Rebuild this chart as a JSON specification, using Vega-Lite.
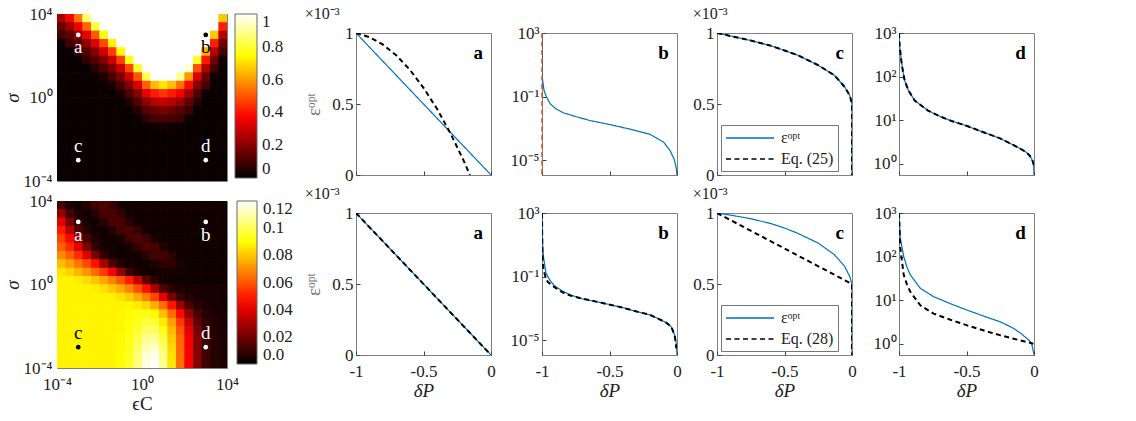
{
"$schema":"https://vega.github.io/schema/vega-lite/v6.json",
"background":"white",
"padding":{"left":2,"top":4,"right":2,"bottom":2},
"config":{"font":"Liberation Serif","view":{"stroke":"#808080","strokeWidth":1},
"axis":{"labelFontSize":17,"titleFontSize":19,"labelColor":"#222","titleColor":"#222","titleFontWeight":"normal","ticks":true,"tickSize":-4,"tickColor":"#444","tickWidth":1,"domain":false,"grid":false,"labelPadding":7,"labelOverlap":false,"labelFlush":false},
"title":{"fontWeight":"normal","fontSize":16,"color":"#222"},
"legend":{"labelColor":"#222"}},
"datasets":{
"marks":[{"label":"a","eps":0.001,"sigma":1000},{"label":"b","eps":1000,"sigma":1000},{"label":"c","eps":0.001,"sigma":0.001},{"label":"d","eps":1000,"sigma":0.001}],
"heatTop":[
{"lx":-3.8,"ly":3.8,"v":0.243},{"lx":-3.4,"ly":3.8,"v":0.372},{"lx":-3,"ly":3.8,"v":0.545},{"lx":-2.6,"ly":3.8,"v":0.85},{"lx":-2.2,"ly":3.8,"v":1},{"lx":-1.8,"ly":3.8,"v":1},{"lx":-1.4,"ly":3.8,"v":1},{"lx":-1,"ly":3.8,"v":1},{"lx":-0.6,"ly":3.8,"v":1},{"lx":-0.2,"ly":3.8,"v":1},{"lx":0.2,"ly":3.8,"v":1},{"lx":0.6,"ly":3.8,"v":1},{"lx":1,"ly":3.8,"v":1},{"lx":1.4,"ly":3.8,"v":1},{"lx":1.8,"ly":3.8,"v":1},{"lx":2.2,"ly":3.8,"v":1},{"lx":2.6,"ly":3.8,"v":1},{"lx":3,"ly":3.8,"v":1},{"lx":3.4,"ly":3.8,"v":1},{"lx":3.8,"ly":3.8,"v":0.67},
{"lx":-3.8,"ly":3.4,"v":0.146},{"lx":-3.4,"ly":3.4,"v":0.23},{"lx":-3,"ly":3.4,"v":0.356},{"lx":-2.6,"ly":3.4,"v":0.524},{"lx":-2.2,"ly":3.4,"v":0.81},{"lx":-1.8,"ly":3.4,"v":1},{"lx":-1.4,"ly":3.4,"v":1},{"lx":-1,"ly":3.4,"v":1},{"lx":-0.6,"ly":3.4,"v":1},{"lx":-0.2,"ly":3.4,"v":1},{"lx":0.2,"ly":3.4,"v":1},{"lx":0.6,"ly":3.4,"v":1},{"lx":1,"ly":3.4,"v":1},{"lx":1.4,"ly":3.4,"v":1},{"lx":1.8,"ly":3.4,"v":1},{"lx":2.2,"ly":3.4,"v":1},{"lx":2.6,"ly":3.4,"v":1},{"lx":3,"ly":3.4,"v":1},{"lx":3.4,"ly":3.4,"v":1},{"lx":3.8,"ly":3.4,"v":0.42},
{"lx":-3.8,"ly":3,"v":0.097},{"lx":-3.4,"ly":3,"v":0.137},{"lx":-3,"ly":3,"v":0.218},{"lx":-2.6,"ly":3,"v":0.34},{"lx":-2.2,"ly":3,"v":0.503},{"lx":-1.8,"ly":3,"v":0.77},{"lx":-1.4,"ly":3,"v":1},{"lx":-1,"ly":3,"v":1},{"lx":-0.6,"ly":3,"v":1},{"lx":-0.2,"ly":3,"v":1},{"lx":0.2,"ly":3,"v":1},{"lx":0.6,"ly":3,"v":1},{"lx":1,"ly":3,"v":1},{"lx":1.4,"ly":3,"v":1},{"lx":1.8,"ly":3,"v":1},{"lx":2.2,"ly":3,"v":1},{"lx":2.6,"ly":3,"v":1},{"lx":3,"ly":3,"v":1},{"lx":3.4,"ly":3,"v":0.67},{"lx":3.8,"ly":3,"v":0.27},
{"lx":-3.8,"ly":2.6,"v":0.02},{"lx":-3.4,"ly":2.6,"v":0.093},{"lx":-3,"ly":2.6,"v":0.129},{"lx":-2.6,"ly":2.6,"v":0.209},{"lx":-2.2,"ly":2.6,"v":0.324},{"lx":-1.8,"ly":2.6,"v":0.482},{"lx":-1.4,"ly":2.6,"v":0.734},{"lx":-1,"ly":2.6,"v":1},{"lx":-0.6,"ly":2.6,"v":1},{"lx":-0.2,"ly":2.6,"v":1},{"lx":0.2,"ly":2.6,"v":1},{"lx":0.6,"ly":2.6,"v":1},{"lx":1,"ly":2.6,"v":1},{"lx":1.4,"ly":2.6,"v":1},{"lx":1.8,"ly":2.6,"v":1},{"lx":2.2,"ly":2.6,"v":1},{"lx":2.6,"ly":2.6,"v":1},{"lx":3,"ly":2.6,"v":1},{"lx":3.4,"ly":2.6,"v":0.42},{"lx":3.8,"ly":2.6,"v":0.164},
{"lx":-3.8,"ly":2.2,"v":0.015},{"lx":-3.4,"ly":2.2,"v":0.017},{"lx":-3,"ly":2.2,"v":0.087},{"lx":-2.6,"ly":2.2,"v":0.125},{"lx":-2.2,"ly":2.2,"v":0.2},{"lx":-1.8,"ly":2.2,"v":0.31},{"lx":-1.4,"ly":2.2,"v":0.462},{"lx":-1,"ly":2.2,"v":0.742},{"lx":-0.6,"ly":2.2,"v":1},{"lx":-0.2,"ly":2.2,"v":1},{"lx":0.2,"ly":2.2,"v":1},{"lx":0.6,"ly":2.2,"v":1},{"lx":1,"ly":2.2,"v":1},{"lx":1.4,"ly":2.2,"v":1},{"lx":1.8,"ly":2.2,"v":1},{"lx":2.2,"ly":2.2,"v":1},{"lx":2.6,"ly":2.2,"v":1},{"lx":3,"ly":2.2,"v":0.638},{"lx":3.4,"ly":2.2,"v":0.27},{"lx":3.8,"ly":2.2,"v":0.105},
{"lx":-3.8,"ly":1.8,"v":0.015},{"lx":-3.4,"ly":1.8,"v":0.015},{"lx":-3,"ly":1.8,"v":0.015},{"lx":-2.6,"ly":1.8,"v":0.075},{"lx":-2.2,"ly":1.8,"v":0.121},{"lx":-1.8,"ly":1.8,"v":0.191},{"lx":-1.4,"ly":1.8,"v":0.297},{"lx":-1,"ly":1.8,"v":0.467},{"lx":-0.6,"ly":1.8,"v":0.77},{"lx":-0.2,"ly":1.8,"v":1},{"lx":0.2,"ly":1.8,"v":1},{"lx":0.6,"ly":1.8,"v":1},{"lx":1,"ly":1.8,"v":1},{"lx":1.4,"ly":1.8,"v":1},{"lx":1.8,"ly":1.8,"v":1},{"lx":2.2,"ly":1.8,"v":1},{"lx":2.6,"ly":1.8,"v":0.79},{"lx":3,"ly":1.8,"v":0.404},{"lx":3.4,"ly":1.8,"v":0.164},{"lx":3.8,"ly":1.8,"v":0.026},
{"lx":-3.8,"ly":1.4,"v":0.015},{"lx":-3.4,"ly":1.4,"v":0.015},{"lx":-3,"ly":1.4,"v":0.015},{"lx":-2.6,"ly":1.4,"v":0.015},{"lx":-2.2,"ly":1.4,"v":0.063},{"lx":-1.8,"ly":1.4,"v":0.117},{"lx":-1.4,"ly":1.4,"v":0.182},{"lx":-1,"ly":1.4,"v":0.3},{"lx":-0.6,"ly":1.4,"v":0.482},{"lx":-0.2,"ly":1.4,"v":0.8},{"lx":0.2,"ly":1.4,"v":1},{"lx":0.6,"ly":1.4,"v":1},{"lx":1,"ly":1.4,"v":1},{"lx":1.4,"ly":1.4,"v":1},{"lx":1.8,"ly":1.4,"v":1},{"lx":2.2,"ly":1.4,"v":0.96},{"lx":2.6,"ly":1.4,"v":0.493},{"lx":3,"ly":1.4,"v":0.257},{"lx":3.4,"ly":1.4,"v":0.105},{"lx":3.8,"ly":1.4,"v":0.015},
{"lx":-3.8,"ly":1,"v":0.015},{"lx":-3.4,"ly":1,"v":0.015},{"lx":-3,"ly":1,"v":0.015},{"lx":-2.6,"ly":1,"v":0.015},{"lx":-2.2,"ly":1,"v":0.015},{"lx":-1.8,"ly":1,"v":0.051},{"lx":-1.4,"ly":1,"v":0.113},{"lx":-1,"ly":1,"v":0.184},{"lx":-0.6,"ly":1,"v":0.31},{"lx":-0.2,"ly":1,"v":0.498},{"lx":0.2,"ly":1,"v":0.83},{"lx":0.6,"ly":1,"v":1},{"lx":1,"ly":1,"v":1},{"lx":1.4,"ly":1,"v":1},{"lx":1.8,"ly":1,"v":0.9},{"lx":2.2,"ly":1,"v":0.598},{"lx":2.6,"ly":1,"v":0.317},{"lx":3,"ly":1,"v":0.155},{"lx":3.4,"ly":1,"v":0.026},{"lx":3.8,"ly":1,"v":0.015},
{"lx":-3.8,"ly":0.6,"v":0.015},{"lx":-3.4,"ly":0.6,"v":0.015},{"lx":-3,"ly":0.6,"v":0.015},{"lx":-2.6,"ly":0.6,"v":0.015},{"lx":-2.2,"ly":0.6,"v":0.015},{"lx":-1.8,"ly":0.6,"v":0.015},{"lx":-1.4,"ly":0.6,"v":0.039},{"lx":-1,"ly":0.6,"v":0.114},{"lx":-0.6,"ly":0.6,"v":0.191},{"lx":-0.2,"ly":0.6,"v":0.32},{"lx":0.2,"ly":0.6,"v":0.514},{"lx":0.6,"ly":0.6,"v":0.654},{"lx":1,"ly":0.6,"v":0.718},{"lx":1.4,"ly":0.6,"v":0.654},{"lx":1.8,"ly":0.6,"v":0.55},{"lx":2.2,"ly":0.6,"v":0.384},{"lx":2.6,"ly":0.6,"v":0.195},{"lx":3,"ly":0.6,"v":0.101},{"lx":3.4,"ly":0.6,"v":0.015},{"lx":3.8,"ly":0.6,"v":0.015},
{"lx":-3.8,"ly":0.2,"v":0.015},{"lx":-3.4,"ly":0.2,"v":0.015},{"lx":-3,"ly":0.2,"v":0.015},{"lx":-2.6,"ly":0.2,"v":0.015},{"lx":-2.2,"ly":0.2,"v":0.015},{"lx":-1.8,"ly":0.2,"v":0.015},{"lx":-1.4,"ly":0.2,"v":0.015},{"lx":-1,"ly":0.2,"v":0.042},{"lx":-0.6,"ly":0.2,"v":0.117},{"lx":-0.2,"ly":0.2,"v":0.198},{"lx":0.2,"ly":0.2,"v":0.332},{"lx":0.6,"ly":0.2,"v":0.412},{"lx":1,"ly":0.2,"v":0.451},{"lx":1.4,"ly":0.2,"v":0.412},{"lx":1.8,"ly":0.2,"v":0.36},{"lx":2.2,"ly":0.2,"v":0.24},{"lx":2.6,"ly":0.2,"v":0.119},{"lx":3,"ly":0.2,"v":0.023},{"lx":3.4,"ly":0.2,"v":0.015},{"lx":3.8,"ly":0.2,"v":0.015},
{"lx":-3.8,"ly":-0.2,"v":0.015},{"lx":-3.4,"ly":-0.2,"v":0.015},{"lx":-3,"ly":-0.2,"v":0.015},{"lx":-2.6,"ly":-0.2,"v":0.015},{"lx":-2.2,"ly":-0.2,"v":0.015},{"lx":-1.8,"ly":-0.2,"v":0.015},{"lx":-1.4,"ly":-0.2,"v":0.015},{"lx":-1,"ly":-0.2,"v":0.015},{"lx":-0.6,"ly":-0.2,"v":0.051},{"lx":-0.2,"ly":-0.2,"v":0.12},{"lx":0.2,"ly":-0.2,"v":0.204},{"lx":0.6,"ly":-0.2,"v":0.263},{"lx":1,"ly":-0.2,"v":0.29},{"lx":1.4,"ly":-0.2,"v":0.263},{"lx":1.8,"ly":-0.2,"v":0.22},{"lx":2.2,"ly":-0.2,"v":0.143},{"lx":2.6,"ly":-0.2,"v":0.057},{"lx":3,"ly":-0.2,"v":0.015},{"lx":3.4,"ly":-0.2,"v":0.015},{"lx":3.8,"ly":-0.2,"v":0.015},
{"lx":-3.8,"ly":-0.6,"v":0.015},{"lx":-3.4,"ly":-0.6,"v":0.015},{"lx":-3,"ly":-0.6,"v":0.015},{"lx":-2.6,"ly":-0.6,"v":0.015},{"lx":-2.2,"ly":-0.6,"v":0.015},{"lx":-1.8,"ly":-0.6,"v":0.015},{"lx":-1.4,"ly":-0.6,"v":0.015},{"lx":-1,"ly":-0.6,"v":0.015},{"lx":-0.6,"ly":-0.6,"v":0.015},{"lx":-0.2,"ly":-0.6,"v":0.06},{"lx":0.2,"ly":-0.6,"v":0.123},{"lx":0.6,"ly":-0.6,"v":0.159},{"lx":1,"ly":-0.6,"v":0.177},{"lx":1.4,"ly":-0.6,"v":0.159},{"lx":1.8,"ly":-0.6,"v":0.13},{"lx":2.2,"ly":-0.6,"v":0.096},{"lx":2.6,"ly":-0.6,"v":0.015},{"lx":3,"ly":-0.6,"v":0.015},{"lx":3.4,"ly":-0.6,"v":0.015},{"lx":3.8,"ly":-0.6,"v":0.015},
{"lx":-3.8,"ly":-1,"v":0.015},{"lx":-3.4,"ly":-1,"v":0.015},{"lx":-3,"ly":-1,"v":0.015},{"lx":-2.6,"ly":-1,"v":0.015},{"lx":-2.2,"ly":-1,"v":0.015},{"lx":-1.8,"ly":-1,"v":0.015},{"lx":-1.4,"ly":-1,"v":0.015},{"lx":-1,"ly":-1,"v":0.015},{"lx":-0.6,"ly":-1,"v":0.015},{"lx":-0.2,"ly":-1,"v":0.015},{"lx":0.2,"ly":-1,"v":0.069},{"lx":0.6,"ly":-1,"v":0.103},{"lx":1,"ly":-1,"v":0.111},{"lx":1.4,"ly":-1,"v":0.103},{"lx":1.8,"ly":-1,"v":0.09},{"lx":2.2,"ly":-1,"v":0.02},{"lx":2.6,"ly":-1,"v":0.015},{"lx":3,"ly":-1,"v":0.015},{"lx":3.4,"ly":-1,"v":0.015},{"lx":3.8,"ly":-1,"v":0.015},
{"lx":-3.8,"ly":-1.4,"v":0.015},{"lx":-3.4,"ly":-1.4,"v":0.015},{"lx":-3,"ly":-1.4,"v":0.015},{"lx":-2.6,"ly":-1.4,"v":0.015},{"lx":-2.2,"ly":-1.4,"v":0.015},{"lx":-1.8,"ly":-1.4,"v":0.015},{"lx":-1.4,"ly":-1.4,"v":0.015},{"lx":-1,"ly":-1.4,"v":0.015},{"lx":-0.6,"ly":-1.4,"v":0.015},{"lx":-0.2,"ly":-1.4,"v":0.015},{"lx":0.2,"ly":-1.4,"v":0.015},{"lx":0.6,"ly":-1.4,"v":0.025},{"lx":1,"ly":-1.4,"v":0.033},{"lx":1.4,"ly":-1.4,"v":0.025},{"lx":1.8,"ly":-1.4,"v":0.015},{"lx":2.2,"ly":-1.4,"v":0.015},{"lx":2.6,"ly":-1.4,"v":0.015},{"lx":3,"ly":-1.4,"v":0.015},{"lx":3.4,"ly":-1.4,"v":0.015},{"lx":3.8,"ly":-1.4,"v":0.015},
{"lx":-3.8,"ly":-1.8,"v":0.015},{"lx":-3.4,"ly":-1.8,"v":0.015},{"lx":-3,"ly":-1.8,"v":0.015},{"lx":-2.6,"ly":-1.8,"v":0.015},{"lx":-2.2,"ly":-1.8,"v":0.015},{"lx":-1.8,"ly":-1.8,"v":0.015},{"lx":-1.4,"ly":-1.8,"v":0.015},{"lx":-1,"ly":-1.8,"v":0.015},{"lx":-0.6,"ly":-1.8,"v":0.015},{"lx":-0.2,"ly":-1.8,"v":0.015},{"lx":0.2,"ly":-1.8,"v":0.015},{"lx":0.6,"ly":-1.8,"v":0.015},{"lx":1,"ly":-1.8,"v":0.015},{"lx":1.4,"ly":-1.8,"v":0.015},{"lx":1.8,"ly":-1.8,"v":0.015},{"lx":2.2,"ly":-1.8,"v":0.015},{"lx":2.6,"ly":-1.8,"v":0.015},{"lx":3,"ly":-1.8,"v":0.015},{"lx":3.4,"ly":-1.8,"v":0.015},{"lx":3.8,"ly":-1.8,"v":0.015},
{"lx":-3.8,"ly":-2.2,"v":0.015},{"lx":-3.4,"ly":-2.2,"v":0.015},{"lx":-3,"ly":-2.2,"v":0.015},{"lx":-2.6,"ly":-2.2,"v":0.015},{"lx":-2.2,"ly":-2.2,"v":0.015},{"lx":-1.8,"ly":-2.2,"v":0.015},{"lx":-1.4,"ly":-2.2,"v":0.015},{"lx":-1,"ly":-2.2,"v":0.015},{"lx":-0.6,"ly":-2.2,"v":0.015},{"lx":-0.2,"ly":-2.2,"v":0.015},{"lx":0.2,"ly":-2.2,"v":0.015},{"lx":0.6,"ly":-2.2,"v":0.015},{"lx":1,"ly":-2.2,"v":0.015},{"lx":1.4,"ly":-2.2,"v":0.015},{"lx":1.8,"ly":-2.2,"v":0.015},{"lx":2.2,"ly":-2.2,"v":0.015},{"lx":2.6,"ly":-2.2,"v":0.015},{"lx":3,"ly":-2.2,"v":0.015},{"lx":3.4,"ly":-2.2,"v":0.015},{"lx":3.8,"ly":-2.2,"v":0.015},
{"lx":-3.8,"ly":-2.6,"v":0.015},{"lx":-3.4,"ly":-2.6,"v":0.015},{"lx":-3,"ly":-2.6,"v":0.015},{"lx":-2.6,"ly":-2.6,"v":0.015},{"lx":-2.2,"ly":-2.6,"v":0.015},{"lx":-1.8,"ly":-2.6,"v":0.015},{"lx":-1.4,"ly":-2.6,"v":0.015},{"lx":-1,"ly":-2.6,"v":0.015},{"lx":-0.6,"ly":-2.6,"v":0.015},{"lx":-0.2,"ly":-2.6,"v":0.015},{"lx":0.2,"ly":-2.6,"v":0.015},{"lx":0.6,"ly":-2.6,"v":0.015},{"lx":1,"ly":-2.6,"v":0.015},{"lx":1.4,"ly":-2.6,"v":0.015},{"lx":1.8,"ly":-2.6,"v":0.015},{"lx":2.2,"ly":-2.6,"v":0.015},{"lx":2.6,"ly":-2.6,"v":0.015},{"lx":3,"ly":-2.6,"v":0.015},{"lx":3.4,"ly":-2.6,"v":0.015},{"lx":3.8,"ly":-2.6,"v":0.015},
{"lx":-3.8,"ly":-3,"v":0.015},{"lx":-3.4,"ly":-3,"v":0.015},{"lx":-3,"ly":-3,"v":0.015},{"lx":-2.6,"ly":-3,"v":0.015},{"lx":-2.2,"ly":-3,"v":0.015},{"lx":-1.8,"ly":-3,"v":0.015},{"lx":-1.4,"ly":-3,"v":0.015},{"lx":-1,"ly":-3,"v":0.015},{"lx":-0.6,"ly":-3,"v":0.015},{"lx":-0.2,"ly":-3,"v":0.015},{"lx":0.2,"ly":-3,"v":0.015},{"lx":0.6,"ly":-3,"v":0.015},{"lx":1,"ly":-3,"v":0.015},{"lx":1.4,"ly":-3,"v":0.015},{"lx":1.8,"ly":-3,"v":0.015},{"lx":2.2,"ly":-3,"v":0.015},{"lx":2.6,"ly":-3,"v":0.015},{"lx":3,"ly":-3,"v":0.015},{"lx":3.4,"ly":-3,"v":0.015},{"lx":3.8,"ly":-3,"v":0.015},
{"lx":-3.8,"ly":-3.4,"v":0.015},{"lx":-3.4,"ly":-3.4,"v":0.015},{"lx":-3,"ly":-3.4,"v":0.015},{"lx":-2.6,"ly":-3.4,"v":0.015},{"lx":-2.2,"ly":-3.4,"v":0.015},{"lx":-1.8,"ly":-3.4,"v":0.015},{"lx":-1.4,"ly":-3.4,"v":0.015},{"lx":-1,"ly":-3.4,"v":0.015},{"lx":-0.6,"ly":-3.4,"v":0.015},{"lx":-0.2,"ly":-3.4,"v":0.015},{"lx":0.2,"ly":-3.4,"v":0.015},{"lx":0.6,"ly":-3.4,"v":0.015},{"lx":1,"ly":-3.4,"v":0.015},{"lx":1.4,"ly":-3.4,"v":0.015},{"lx":1.8,"ly":-3.4,"v":0.015},{"lx":2.2,"ly":-3.4,"v":0.015},{"lx":2.6,"ly":-3.4,"v":0.015},{"lx":3,"ly":-3.4,"v":0.015},{"lx":3.4,"ly":-3.4,"v":0.015},{"lx":3.8,"ly":-3.4,"v":0.015},
{"lx":-3.8,"ly":-3.8,"v":0.015},{"lx":-3.4,"ly":-3.8,"v":0.015},{"lx":-3,"ly":-3.8,"v":0.015},{"lx":-2.6,"ly":-3.8,"v":0.015},{"lx":-2.2,"ly":-3.8,"v":0.015},{"lx":-1.8,"ly":-3.8,"v":0.015},{"lx":-1.4,"ly":-3.8,"v":0.015},{"lx":-1,"ly":-3.8,"v":0.015},{"lx":-0.6,"ly":-3.8,"v":0.015},{"lx":-0.2,"ly":-3.8,"v":0.015},{"lx":0.2,"ly":-3.8,"v":0.015},{"lx":0.6,"ly":-3.8,"v":0.015},{"lx":1,"ly":-3.8,"v":0.015},{"lx":1.4,"ly":-3.8,"v":0.015},{"lx":1.8,"ly":-3.8,"v":0.015},{"lx":2.2,"ly":-3.8,"v":0.015},{"lx":2.6,"ly":-3.8,"v":0.015},{"lx":3,"ly":-3.8,"v":0.015},{"lx":3.4,"ly":-3.8,"v":0.015},{"lx":3.8,"ly":-3.8,"v":0.015}
],
"heatBot":[
{"lx":-3.8,"ly":3.8,"v":0.012},{"lx":-3.4,"ly":3.8,"v":0.005},{"lx":-3,"ly":3.8,"v":0.003},{"lx":-2.6,"ly":3.8,"v":0.0065},{"lx":-2.2,"ly":3.8,"v":0.012},{"lx":-1.8,"ly":3.8,"v":0.014},{"lx":-1.4,"ly":3.8,"v":0.0095},{"lx":-1,"ly":3.8,"v":0.004},{"lx":-0.6,"ly":3.8,"v":0.003},{"lx":-0.2,"ly":3.8,"v":0.003},{"lx":0.2,"ly":3.8,"v":0.003},{"lx":0.6,"ly":3.8,"v":0.003},{"lx":1,"ly":3.8,"v":0.003},{"lx":1.4,"ly":3.8,"v":0.003},{"lx":1.8,"ly":3.8,"v":0.003},{"lx":2.2,"ly":3.8,"v":0.003},{"lx":2.6,"ly":3.8,"v":0.003},{"lx":3,"ly":3.8,"v":0.003},{"lx":3.4,"ly":3.8,"v":0.003},{"lx":3.8,"ly":3.8,"v":0.003},
{"lx":-3.8,"ly":3.4,"v":0.026},{"lx":-3.4,"ly":3.4,"v":0.012},{"lx":-3,"ly":3.4,"v":0.005},{"lx":-2.6,"ly":3.4,"v":0.003},{"lx":-2.2,"ly":3.4,"v":0.007},{"lx":-1.8,"ly":3.4,"v":0.013},{"lx":-1.4,"ly":3.4,"v":0.0135},{"lx":-1,"ly":3.4,"v":0.009},{"lx":-0.6,"ly":3.4,"v":0.0034},{"lx":-0.2,"ly":3.4,"v":0.003},{"lx":0.2,"ly":3.4,"v":0.003},{"lx":0.6,"ly":3.4,"v":0.003},{"lx":1,"ly":3.4,"v":0.003},{"lx":1.4,"ly":3.4,"v":0.003},{"lx":1.8,"ly":3.4,"v":0.003},{"lx":2.2,"ly":3.4,"v":0.003},{"lx":2.6,"ly":3.4,"v":0.003},{"lx":3,"ly":3.4,"v":0.003},{"lx":3.4,"ly":3.4,"v":0.003},{"lx":3.8,"ly":3.4,"v":0.003},
{"lx":-3.8,"ly":3,"v":0.04},{"lx":-3.4,"ly":3,"v":0.021},{"lx":-3,"ly":3,"v":0.009},{"lx":-2.6,"ly":3,"v":0.0045},{"lx":-2.2,"ly":3,"v":0.003},{"lx":-1.8,"ly":3,"v":0.008},{"lx":-1.4,"ly":3,"v":0.013},{"lx":-1,"ly":3,"v":0.013},{"lx":-0.6,"ly":3,"v":0.008},{"lx":-0.2,"ly":3,"v":0.003},{"lx":0.2,"ly":3,"v":0.003},{"lx":0.6,"ly":3,"v":0.003},{"lx":1,"ly":3,"v":0.003},{"lx":1.4,"ly":3,"v":0.003},{"lx":1.8,"ly":3,"v":0.003},{"lx":2.2,"ly":3,"v":0.003},{"lx":2.6,"ly":3,"v":0.003},{"lx":3,"ly":3,"v":0.003},{"lx":3.4,"ly":3,"v":0.003},{"lx":3.8,"ly":3,"v":0.003},
{"lx":-3.8,"ly":2.6,"v":0.049},{"lx":-3.4,"ly":2.6,"v":0.0325},{"lx":-3,"ly":2.6,"v":0.0157},{"lx":-2.6,"ly":2.6,"v":0.007},{"lx":-2.2,"ly":2.6,"v":0.0037},{"lx":-1.8,"ly":2.6,"v":0.003},{"lx":-1.4,"ly":2.6,"v":0.0065},{"lx":-1,"ly":2.6,"v":0.0122},{"lx":-0.6,"ly":2.6,"v":0.0138},{"lx":-0.2,"ly":2.6,"v":0.0095},{"lx":0.2,"ly":2.6,"v":0.004},{"lx":0.6,"ly":2.6,"v":0.003},{"lx":1,"ly":2.6,"v":0.003},{"lx":1.4,"ly":2.6,"v":0.003},{"lx":1.8,"ly":2.6,"v":0.003},{"lx":2.2,"ly":2.6,"v":0.003},{"lx":2.6,"ly":2.6,"v":0.003},{"lx":3,"ly":2.6,"v":0.003},{"lx":3.4,"ly":2.6,"v":0.003},{"lx":3.8,"ly":2.6,"v":0.003},
{"lx":-3.8,"ly":2.2,"v":0.0567},{"lx":-3.4,"ly":2.2,"v":0.0463},{"lx":-3,"ly":2.2,"v":0.0278},{"lx":-2.6,"ly":2.2,"v":0.013},{"lx":-2.2,"ly":2.2,"v":0.0057},{"lx":-1.8,"ly":2.2,"v":0.0033},{"lx":-1.4,"ly":2.2,"v":0.003},{"lx":-1,"ly":2.2,"v":0.0052},{"lx":-0.6,"ly":2.2,"v":0.0109},{"lx":-0.2,"ly":2.2,"v":0.014},{"lx":0.2,"ly":2.2,"v":0.0109},{"lx":0.6,"ly":2.2,"v":0.0052},{"lx":1,"ly":2.2,"v":0.003},{"lx":1.4,"ly":2.2,"v":0.003},{"lx":1.8,"ly":2.2,"v":0.003},{"lx":2.2,"ly":2.2,"v":0.003},{"lx":2.6,"ly":2.2,"v":0.003},{"lx":3,"ly":2.2,"v":0.003},{"lx":3.4,"ly":2.2,"v":0.003},{"lx":3.8,"ly":2.2,"v":0.003},
{"lx":-3.8,"ly":1.8,"v":0.062},{"lx":-3.4,"ly":1.8,"v":0.0528},{"lx":-3,"ly":1.8,"v":0.04},{"lx":-2.6,"ly":1.8,"v":0.0213},{"lx":-2.2,"ly":1.8,"v":0.009},{"lx":-1.8,"ly":1.8,"v":0.0045},{"lx":-1.4,"ly":1.8,"v":0.003},{"lx":-1,"ly":1.8,"v":0.003},{"lx":-0.6,"ly":1.8,"v":0.004},{"lx":-0.2,"ly":1.8,"v":0.0095},{"lx":0.2,"ly":1.8,"v":0.0138},{"lx":0.6,"ly":1.8,"v":0.0122},{"lx":1,"ly":1.8,"v":0.0065},{"lx":1.4,"ly":1.8,"v":0.003},{"lx":1.8,"ly":1.8,"v":0.003},{"lx":2.2,"ly":1.8,"v":0.003},{"lx":2.6,"ly":1.8,"v":0.003},{"lx":3,"ly":1.8,"v":0.003},{"lx":3.4,"ly":1.8,"v":0.003},{"lx":3.8,"ly":1.8,"v":0.003},
{"lx":-3.8,"ly":1.4,"v":0.0696},{"lx":-3.4,"ly":1.4,"v":0.062},{"lx":-3,"ly":1.4,"v":0.0528},{"lx":-2.6,"ly":1.4,"v":0.04},{"lx":-2.2,"ly":1.4,"v":0.0213},{"lx":-1.8,"ly":1.4,"v":0.009},{"lx":-1.4,"ly":1.4,"v":0.0045},{"lx":-1,"ly":1.4,"v":0.003},{"lx":-0.6,"ly":1.4,"v":0.003},{"lx":-0.2,"ly":1.4,"v":0.003},{"lx":0.2,"ly":1.4,"v":0.0074},{"lx":0.6,"ly":1.4,"v":0.0122},{"lx":1,"ly":1.4,"v":0.0122},{"lx":1.4,"ly":1.4,"v":0.0074},{"lx":1.8,"ly":1.4,"v":0.003},{"lx":2.2,"ly":1.4,"v":0.003},{"lx":2.6,"ly":1.4,"v":0.003},{"lx":3,"ly":1.4,"v":0.003},{"lx":3.4,"ly":1.4,"v":0.003},{"lx":3.8,"ly":1.4,"v":0.003},
{"lx":-3.8,"ly":1,"v":0.0784},{"lx":-3.4,"ly":1,"v":0.0728},{"lx":-3,"ly":1,"v":0.066},{"lx":-2.6,"ly":1,"v":0.058},{"lx":-2.2,"ly":1,"v":0.0476},{"lx":-1.8,"ly":1,"v":0.03},{"lx":-1.4,"ly":1,"v":0.0143},{"lx":-1,"ly":1,"v":0.0063},{"lx":-0.6,"ly":1,"v":0.0035},{"lx":-0.2,"ly":1,"v":0.003},{"lx":0.2,"ly":1,"v":0.003},{"lx":0.6,"ly":1,"v":0.0051},{"lx":1,"ly":1,"v":0.0085},{"lx":1.4,"ly":1,"v":0.0085},{"lx":1.8,"ly":1,"v":0.0051},{"lx":2.2,"ly":1,"v":0.003},{"lx":2.6,"ly":1,"v":0.003},{"lx":3,"ly":1,"v":0.003},{"lx":3.4,"ly":1,"v":0.003},{"lx":3.8,"ly":1,"v":0.003},
{"lx":-3.8,"ly":0.6,"v":0.0852},{"lx":-3.4,"ly":0.6,"v":0.082},{"lx":-3,"ly":0.6,"v":0.0772},{"lx":-2.6,"ly":0.6,"v":0.0712},{"lx":-2.2,"ly":0.6,"v":0.064},{"lx":-1.8,"ly":0.6,"v":0.0554},{"lx":-1.4,"ly":0.6,"v":0.045},{"lx":-1,"ly":0.6,"v":0.0257},{"lx":-0.6,"ly":0.6,"v":0.0117},{"lx":-0.2,"ly":0.6,"v":0.005},{"lx":0.2,"ly":0.6,"v":0.003},{"lx":0.6,"ly":0.6,"v":0.003},{"lx":1,"ly":0.6,"v":0.004},{"lx":1.4,"ly":0.6,"v":0.004},{"lx":1.8,"ly":0.6,"v":0.004},{"lx":2.2,"ly":0.6,"v":0.003},{"lx":2.6,"ly":0.6,"v":0.003},{"lx":3,"ly":0.6,"v":0.003},{"lx":3.4,"ly":0.6,"v":0.003},{"lx":3.8,"ly":0.6,"v":0.003},
{"lx":-3.8,"ly":0.2,"v":0.088},{"lx":-3.4,"ly":0.2,"v":0.088},{"lx":-3,"ly":0.2,"v":0.0864},{"lx":-2.6,"ly":0.2,"v":0.0836},{"lx":-2.2,"ly":0.2,"v":0.0796},{"lx":-1.8,"ly":0.2,"v":0.0744},{"lx":-1.4,"ly":0.2,"v":0.068},{"lx":-1,"ly":0.2,"v":0.06},{"lx":-0.6,"ly":0.2,"v":0.0502},{"lx":-0.2,"ly":0.2,"v":0.035},{"lx":0.2,"ly":0.2,"v":0.017},{"lx":0.6,"ly":0.2,"v":0.0077},{"lx":1,"ly":0.2,"v":0.004},{"lx":1.4,"ly":0.2,"v":0.003},{"lx":1.8,"ly":0.2,"v":0.003},{"lx":2.2,"ly":0.2,"v":0.003},{"lx":2.6,"ly":0.2,"v":0.003},{"lx":3,"ly":0.2,"v":0.003},{"lx":3.4,"ly":0.2,"v":0.003},{"lx":3.8,"ly":0.2,"v":0.003},
{"lx":-3.8,"ly":-0.2,"v":0.088},{"lx":-3.4,"ly":-0.2,"v":0.088},{"lx":-3,"ly":-0.2,"v":0.088},{"lx":-2.6,"ly":-0.2,"v":0.088},{"lx":-2.2,"ly":-0.2,"v":0.0871},{"lx":-1.8,"ly":-0.2,"v":0.0846},{"lx":-1.4,"ly":-0.2,"v":0.0807},{"lx":-1,"ly":-0.2,"v":0.075},{"lx":-0.6,"ly":-0.2,"v":0.068},{"lx":-0.2,"ly":-0.2,"v":0.0592},{"lx":0.2,"ly":-0.2,"v":0.0479},{"lx":0.6,"ly":-0.2,"v":0.03},{"lx":1,"ly":-0.2,"v":0.0147},{"lx":1.4,"ly":-0.2,"v":0.008},{"lx":1.8,"ly":-0.2,"v":0.0055},{"lx":2.2,"ly":-0.2,"v":0.0043},{"lx":2.6,"ly":-0.2,"v":0.004},{"lx":3,"ly":-0.2,"v":0.004},{"lx":3.4,"ly":-0.2,"v":0.004},{"lx":3.8,"ly":-0.2,"v":0.004},
{"lx":-3.8,"ly":-0.6,"v":0.088},{"lx":-3.4,"ly":-0.6,"v":0.088},{"lx":-3,"ly":-0.6,"v":0.088},{"lx":-2.6,"ly":-0.6,"v":0.088},{"lx":-2.2,"ly":-0.6,"v":0.088},{"lx":-1.8,"ly":-0.6,"v":0.088},{"lx":-1.4,"ly":-0.6,"v":0.0875},{"lx":-1,"ly":-0.6,"v":0.085},{"lx":-0.6,"ly":-0.6,"v":0.081},{"lx":-0.2,"ly":-0.6,"v":0.075},{"lx":0.2,"ly":-0.6,"v":0.0673},{"lx":0.6,"ly":-0.6,"v":0.057},{"lx":1,"ly":-0.6,"v":0.04},{"lx":1.4,"ly":-0.6,"v":0.0213},{"lx":1.8,"ly":-0.6,"v":0.01},{"lx":2.2,"ly":-0.6,"v":0.0065},{"lx":2.6,"ly":-0.6,"v":0.0048},{"lx":3,"ly":-0.6,"v":0.004},{"lx":3.4,"ly":-0.6,"v":0.004},{"lx":3.8,"ly":-0.6,"v":0.004},
{"lx":-3.8,"ly":-1,"v":0.088},{"lx":-3.4,"ly":-1,"v":0.088},{"lx":-3,"ly":-1,"v":0.088},{"lx":-2.6,"ly":-1,"v":0.088},{"lx":-2.2,"ly":-1,"v":0.088},{"lx":-1.8,"ly":-1,"v":0.088},{"lx":-1.4,"ly":-1,"v":0.088},{"lx":-1,"ly":-1,"v":0.088},{"lx":-0.6,"ly":-1,"v":0.0885},{"lx":-0.2,"ly":-1,"v":0.0869},{"lx":0.2,"ly":-1,"v":0.083},{"lx":0.6,"ly":-1,"v":0.0754},{"lx":1,"ly":-1,"v":0.064},{"lx":1.4,"ly":-1,"v":0.0485},{"lx":1.8,"ly":-1,"v":0.0278},{"lx":2.2,"ly":-1,"v":0.0135},{"lx":2.6,"ly":-1,"v":0.0075},{"lx":3,"ly":-1,"v":0.0053},{"lx":3.4,"ly":-1,"v":0.0041},{"lx":3.8,"ly":-1,"v":0.004},
{"lx":-3.8,"ly":-1.4,"v":0.088},{"lx":-3.4,"ly":-1.4,"v":0.088},{"lx":-3,"ly":-1.4,"v":0.088},{"lx":-2.6,"ly":-1.4,"v":0.088},{"lx":-2.2,"ly":-1.4,"v":0.088},{"lx":-1.8,"ly":-1.4,"v":0.088},{"lx":-1.4,"ly":-1.4,"v":0.088},{"lx":-1,"ly":-1.4,"v":0.0884},{"lx":-0.6,"ly":-1.4,"v":0.0893},{"lx":-0.2,"ly":-1.4,"v":0.0915},{"lx":0.2,"ly":-1.4,"v":0.0926},{"lx":0.6,"ly":-1.4,"v":0.0889},{"lx":1,"ly":-1.4,"v":0.0787},{"lx":1.4,"ly":-1.4,"v":0.0642},{"lx":1.8,"ly":-1.4,"v":0.046},{"lx":2.2,"ly":-1.4,"v":0.0257},{"lx":2.6,"ly":-1.4,"v":0.0123},{"lx":3,"ly":-1.4,"v":0.007},{"lx":3.4,"ly":-1.4,"v":0.005},{"lx":3.8,"ly":-1.4,"v":0.004},
{"lx":-3.8,"ly":-1.8,"v":0.088},{"lx":-3.4,"ly":-1.8,"v":0.088},{"lx":-3,"ly":-1.8,"v":0.088},{"lx":-2.6,"ly":-1.8,"v":0.088},{"lx":-2.2,"ly":-1.8,"v":0.088},{"lx":-1.8,"ly":-1.8,"v":0.088},{"lx":-1.4,"ly":-1.8,"v":0.0881},{"lx":-1,"ly":-1.8,"v":0.0886},{"lx":-0.6,"ly":-1.8,"v":0.0901},{"lx":-0.2,"ly":-1.8,"v":0.0935},{"lx":0.2,"ly":-1.8,"v":0.0975},{"lx":0.6,"ly":-1.8,"v":0.0957},{"lx":1,"ly":-1.8,"v":0.0866},{"lx":1.4,"ly":-1.8,"v":0.0725},{"lx":1.8,"ly":-1.8,"v":0.0553},{"lx":2.2,"ly":-1.8,"v":0.0354},{"lx":2.6,"ly":-1.8,"v":0.017},{"lx":3,"ly":-1.8,"v":0.009},{"lx":3.4,"ly":-1.8,"v":0.006},{"lx":3.8,"ly":-1.8,"v":0.0045},
{"lx":-3.8,"ly":-2.2,"v":0.088},{"lx":-3.4,"ly":-2.2,"v":0.088},{"lx":-3,"ly":-2.2,"v":0.088},{"lx":-2.6,"ly":-2.2,"v":0.088},{"lx":-2.2,"ly":-2.2,"v":0.088},{"lx":-1.8,"ly":-2.2,"v":0.088},{"lx":-1.4,"ly":-2.2,"v":0.0881},{"lx":-1,"ly":-2.2,"v":0.0888},{"lx":-0.6,"ly":-2.2,"v":0.0911},{"lx":-0.2,"ly":-2.2,"v":0.096},{"lx":0.2,"ly":-2.2,"v":0.1018},{"lx":0.6,"ly":-2.2,"v":0.102},{"lx":1,"ly":-2.2,"v":0.0925},{"lx":1.4,"ly":-2.2,"v":0.0773},{"lx":1.8,"ly":-2.2,"v":0.0603},{"lx":2.2,"ly":-2.2,"v":0.0406},{"lx":2.6,"ly":-2.2,"v":0.0213},{"lx":3,"ly":-2.2,"v":0.01},{"lx":3.4,"ly":-2.2,"v":0.0065},{"lx":3.8,"ly":-2.2,"v":0.0048},
{"lx":-3.8,"ly":-2.6,"v":0.088},{"lx":-3.4,"ly":-2.6,"v":0.088},{"lx":-3,"ly":-2.6,"v":0.088},{"lx":-2.6,"ly":-2.6,"v":0.088},{"lx":-2.2,"ly":-2.6,"v":0.088},{"lx":-1.8,"ly":-2.6,"v":0.088},{"lx":-1.4,"ly":-2.6,"v":0.0882},{"lx":-1,"ly":-2.6,"v":0.0891},{"lx":-0.6,"ly":-2.6,"v":0.0922},{"lx":-0.2,"ly":-2.6,"v":0.0988},{"lx":0.2,"ly":-2.6,"v":0.1066},{"lx":0.6,"ly":-2.6,"v":0.1079},{"lx":1,"ly":-2.6,"v":0.0978},{"lx":1.4,"ly":-2.6,"v":0.0809},{"lx":1.8,"ly":-2.6,"v":0.0628},{"lx":2.2,"ly":-2.6,"v":0.0433},{"lx":2.6,"ly":-2.6,"v":0.0235},{"lx":3,"ly":-2.6,"v":0.0112},{"lx":3.4,"ly":-2.6,"v":0.0068},{"lx":3.8,"ly":-2.6,"v":0.0049},
{"lx":-3.8,"ly":-3,"v":0.088},{"lx":-3.4,"ly":-3,"v":0.088},{"lx":-3,"ly":-3,"v":0.088},{"lx":-2.6,"ly":-3,"v":0.088},{"lx":-2.2,"ly":-3,"v":0.088},{"lx":-1.8,"ly":-3,"v":0.088},{"lx":-1.4,"ly":-3,"v":0.0882},{"lx":-1,"ly":-3,"v":0.0894},{"lx":-0.6,"ly":-3,"v":0.0933},{"lx":-0.2,"ly":-3,"v":0.1015},{"lx":0.2,"ly":-3,"v":0.1112},{"lx":0.6,"ly":-3,"v":0.1133},{"lx":1,"ly":-3,"v":0.102},{"lx":1.4,"ly":-3,"v":0.0831},{"lx":1.8,"ly":-3,"v":0.0636},{"lx":2.2,"ly":-3,"v":0.0434},{"lx":2.6,"ly":-3,"v":0.0235},{"lx":3,"ly":-3,"v":0.0112},{"lx":3.4,"ly":-3,"v":0.0068},{"lx":3.8,"ly":-3,"v":0.0049},
{"lx":-3.8,"ly":-3.4,"v":0.088},{"lx":-3.4,"ly":-3.4,"v":0.088},{"lx":-3,"ly":-3.4,"v":0.088},{"lx":-2.6,"ly":-3.4,"v":0.088},{"lx":-2.2,"ly":-3.4,"v":0.088},{"lx":-1.8,"ly":-3.4,"v":0.088},{"lx":-1.4,"ly":-3.4,"v":0.0883},{"lx":-1,"ly":-3.4,"v":0.0896},{"lx":-0.6,"ly":-3.4,"v":0.094},{"lx":-0.2,"ly":-3.4,"v":0.1035},{"lx":0.2,"ly":-3.4,"v":0.1147},{"lx":0.6,"ly":-3.4,"v":0.1173},{"lx":1,"ly":-3.4,"v":0.1052},{"lx":1.4,"ly":-3.4,"v":0.0847},{"lx":1.8,"ly":-3.4,"v":0.0642},{"lx":2.2,"ly":-3.4,"v":0.0436},{"lx":2.6,"ly":-3.4,"v":0.0235},{"lx":3,"ly":-3.4,"v":0.0112},{"lx":3.4,"ly":-3.4,"v":0.0068},{"lx":3.8,"ly":-3.4,"v":0.0049},
{"lx":-3.8,"ly":-3.8,"v":0.088},{"lx":-3.4,"ly":-3.8,"v":0.088},{"lx":-3,"ly":-3.8,"v":0.088},{"lx":-2.6,"ly":-3.8,"v":0.088},{"lx":-2.2,"ly":-3.8,"v":0.088},{"lx":-1.8,"ly":-3.8,"v":0.088},{"lx":-1.4,"ly":-3.8,"v":0.0883},{"lx":-1,"ly":-3.8,"v":0.0897},{"lx":-0.6,"ly":-3.8,"v":0.0944},{"lx":-0.2,"ly":-3.8,"v":0.1045},{"lx":0.2,"ly":-3.8,"v":0.1164},{"lx":0.6,"ly":-3.8,"v":0.1193},{"lx":1,"ly":-3.8,"v":0.1067},{"lx":1.4,"ly":-3.8,"v":0.0855},{"lx":1.8,"ly":-3.8,"v":0.0645},{"lx":2.2,"ly":-3.8,"v":0.0437},{"lx":2.6,"ly":-3.8,"v":0.0235},{"lx":3,"ly":-3.8,"v":0.0112},{"lx":3.4,"ly":-3.8,"v":0.0068},{"lx":3.8,"ly":-3.8,"v":0.0049}
],
"a1":[{"dP":-1,"eps":1,"series":"εᵒᵖᵗ"},{"dP":0,"eps":0,"series":"εᵒᵖᵗ"},
{"dP":-1,"eps":1,"series":"Eq. (25)"},{"dP":-0.9,"eps":0.971,"series":"Eq. (25)"},{"dP":-0.8,"eps":0.918,"series":"Eq. (25)"},{"dP":-0.7,"eps":0.841,"series":"Eq. (25)"},{"dP":-0.6,"eps":0.74,"series":"Eq. (25)"},{"dP":-0.5,"eps":0.614,"series":"Eq. (25)"},{"dP":-0.4,"eps":0.466,"series":"Eq. (25)"},{"dP":-0.3,"eps":0.293,"series":"Eq. (25)"},{"dP":-0.2,"eps":0.096,"series":"Eq. (25)"},{"dP":-0.156,"eps":0,"series":"Eq. (25)"}],
"b1":[{"dP":-1,"eps":1000,"series":"εᵒᵖᵗ"},{"dP":-0.9995,"eps":20,"series":"εᵒᵖᵗ"},{"dP":-0.997,"eps":1.38,"series":"εᵒᵖᵗ"},{"dP":-0.985,"eps":0.251,"series":"εᵒᵖᵗ"},{"dP":-0.968,"eps":0.1,"series":"εᵒᵖᵗ"},{"dP":-0.94,"eps":0.0363,"series":"εᵒᵖᵗ"},{"dP":-0.9,"eps":0.0178,"series":"εᵒᵖᵗ"},{"dP":-0.842,"eps":0.00977,"series":"εᵒᵖᵗ"},{"dP":-0.75,"eps":0.00562,"series":"εᵒᵖᵗ"},{"dP":-0.644,"eps":0.00316,"series":"εᵒᵖᵗ"},{"dP":-0.5,"eps":0.00178,"series":"εᵒᵖᵗ"},{"dP":-0.347,"eps":0.000912,"series":"εᵒᵖᵗ"},{"dP":-0.2,"eps":0.000437,"series":"εᵒᵖᵗ"},{"dP":-0.1,"eps":0.000141,"series":"εᵒᵖᵗ"},{"dP":-0.05,"eps":0.0000398,"series":"εᵒᵖᵗ"},{"dP":-0.02,"eps":0.0000112,"series":"εᵒᵖᵗ"},{"dP":-0.005,"eps":0.00000316,"series":"εᵒᵖᵗ"},{"dP":0,"eps":0.0000012,"series":"εᵒᵖᵗ"},
{"dP":-1,"eps":1000,"series":"Eq. (25)"},{"dP":-1,"eps":0.0000012,"series":"Eq. (25)"}],
"c1":[{"dP":-1,"eps":1,"series":"εᵒᵖᵗ"},{"dP":-0.9,"eps":0.979,"series":"εᵒᵖᵗ"},{"dP":-0.75,"eps":0.947,"series":"εᵒᵖᵗ"},{"dP":-0.6,"eps":0.91,"series":"εᵒᵖᵗ"},{"dP":-0.5,"eps":0.877,"series":"εᵒᵖᵗ"},{"dP":-0.4,"eps":0.843,"series":"εᵒᵖᵗ"},{"dP":-0.25,"eps":0.773,"series":"εᵒᵖᵗ"},{"dP":-0.13,"eps":0.702,"series":"εᵒᵖᵗ"},{"dP":-0.054,"eps":0.62,"series":"εᵒᵖᵗ"},{"dP":-0.017,"eps":0.56,"series":"εᵒᵖᵗ"},{"dP":-0.005,"eps":0.52,"series":"εᵒᵖᵗ"},{"dP":0,"eps":0.5,"series":"εᵒᵖᵗ"},{"dP":0,"eps":0,"series":"εᵒᵖᵗ"},
{"dP":-1,"eps":1,"series":"Eq. (25)"},{"dP":-0.9,"eps":0.979,"series":"Eq. (25)"},{"dP":-0.75,"eps":0.947,"series":"Eq. (25)"},{"dP":-0.6,"eps":0.91,"series":"Eq. (25)"},{"dP":-0.5,"eps":0.877,"series":"Eq. (25)"},{"dP":-0.4,"eps":0.843,"series":"Eq. (25)"},{"dP":-0.25,"eps":0.773,"series":"Eq. (25)"},{"dP":-0.13,"eps":0.702,"series":"Eq. (25)"},{"dP":-0.054,"eps":0.62,"series":"Eq. (25)"},{"dP":-0.017,"eps":0.56,"series":"Eq. (25)"},{"dP":-0.005,"eps":0.52,"series":"Eq. (25)"},{"dP":0,"eps":0.5,"series":"Eq. (25)"},{"dP":0,"eps":0,"series":"Eq. (25)"}],
"d1":[{"dP":-1,"eps":1000,"series":"εᵒᵖᵗ"},{"dP":-0.995,"eps":501,"series":"εᵒᵖᵗ"},{"dP":-0.983,"eps":234,"series":"εᵒᵖᵗ"},{"dP":-0.97,"eps":126,"series":"εᵒᵖᵗ"},{"dP":-0.958,"eps":81.3,"series":"εᵒᵖᵗ"},{"dP":-0.93,"eps":47.9,"series":"εᵒᵖᵗ"},{"dP":-0.884,"eps":28.2,"series":"εᵒᵖᵗ"},{"dP":-0.785,"eps":16.6,"series":"εᵒᵖᵗ"},{"dP":-0.7,"eps":12.3,"series":"εᵒᵖᵗ"},{"dP":-0.611,"eps":9.55,"series":"εᵒᵖᵗ"},{"dP":-0.5,"eps":7.41,"series":"εᵒᵖᵗ"},{"dP":-0.364,"eps":5.13,"series":"εᵒᵖᵗ"},{"dP":-0.25,"eps":3.8,"series":"εᵒᵖᵗ"},{"dP":-0.116,"eps":2.34,"series":"εᵒᵖᵗ"},{"dP":-0.06,"eps":1.86,"series":"εᵒᵖᵗ"},{"dP":-0.03,"eps":1.51,"series":"εᵒᵖᵗ"},{"dP":-0.01,"eps":1.15,"series":"εᵒᵖᵗ"},{"dP":-0.003,"eps":0.955,"series":"εᵒᵖᵗ"},{"dP":0,"eps":0.55,"series":"εᵒᵖᵗ"},
{"dP":-1,"eps":1000,"series":"Eq. (25)"},{"dP":-0.995,"eps":501,"series":"Eq. (25)"},{"dP":-0.983,"eps":234,"series":"Eq. (25)"},{"dP":-0.97,"eps":126,"series":"Eq. (25)"},{"dP":-0.958,"eps":81.3,"series":"Eq. (25)"},{"dP":-0.93,"eps":47.9,"series":"Eq. (25)"},{"dP":-0.884,"eps":28.2,"series":"Eq. (25)"},{"dP":-0.785,"eps":16.6,"series":"Eq. (25)"},{"dP":-0.7,"eps":12.3,"series":"Eq. (25)"},{"dP":-0.611,"eps":9.55,"series":"Eq. (25)"},{"dP":-0.5,"eps":7.41,"series":"Eq. (25)"},{"dP":-0.364,"eps":5.13,"series":"Eq. (25)"},{"dP":-0.25,"eps":3.8,"series":"Eq. (25)"},{"dP":-0.116,"eps":2.34,"series":"Eq. (25)"},{"dP":-0.06,"eps":1.86,"series":"Eq. (25)"},{"dP":-0.03,"eps":1.51,"series":"Eq. (25)"},{"dP":-0.01,"eps":1.15,"series":"Eq. (25)"},{"dP":-0.003,"eps":0.955,"series":"Eq. (25)"},{"dP":0,"eps":0.9,"series":"Eq. (25)"}],
"a2":[{"dP":-1,"eps":1,"series":"εᵒᵖᵗ"},{"dP":0,"eps":0,"series":"εᵒᵖᵗ"},{"dP":-1,"eps":1,"series":"Eq. (28)"},{"dP":0,"eps":0,"series":"Eq. (28)"}],
"b2":[{"dP":-1,"eps":1000,"series":"εᵒᵖᵗ"},{"dP":-0.995,"eps":10,"series":"εᵒᵖᵗ"},{"dP":-0.988,"eps":1.45,"series":"εᵒᵖᵗ"},{"dP":-0.97,"eps":0.162,"series":"εᵒᵖᵗ"},{"dP":-0.94,"eps":0.0562,"series":"εᵒᵖᵗ"},{"dP":-0.908,"eps":0.0269,"series":"εᵒᵖᵗ"},{"dP":-0.85,"eps":0.0126,"series":"εᵒᵖᵗ"},{"dP":-0.785,"eps":0.00692,"series":"εᵒᵖᵗ"},{"dP":-0.7,"eps":0.00398,"series":"εᵒᵖᵗ"},{"dP":-0.537,"eps":0.00209,"series":"εᵒᵖᵗ"},{"dP":-0.4,"eps":0.00112,"series":"εᵒᵖᵗ"},{"dP":-0.29,"eps":0.000617,"series":"εᵒᵖᵗ"},{"dP":-0.2,"eps":0.000398,"series":"εᵒᵖᵗ"},{"dP":-0.141,"eps":0.000234,"series":"εᵒᵖᵗ"},{"dP":-0.08,"eps":0.00013,"series":"εᵒᵖᵗ"},{"dP":-0.042,"eps":0.0000692,"series":"εᵒᵖᵗ"},{"dP":-0.017,"eps":0.0000209,"series":"εᵒᵖᵗ"},{"dP":-0.005,"eps":0.00000631,"series":"εᵒᵖᵗ"},{"dP":0,"eps":0.0000012,"series":"εᵒᵖᵗ"},
{"dP":-1,"eps":1000,"series":"Eq. (28)"},{"dP":-0.998,"eps":3.16,"series":"Eq. (28)"},{"dP":-0.99,"eps":0.316,"series":"Eq. (28)"},{"dP":-0.975,"eps":0.1,"series":"Eq. (28)"},{"dP":-0.958,"eps":0.0479,"series":"Eq. (28)"},{"dP":-0.92,"eps":0.0263,"series":"Eq. (28)"},{"dP":-0.884,"eps":0.0158,"series":"Eq. (28)"},{"dP":-0.834,"eps":0.00891,"series":"Eq. (28)"},{"dP":-0.785,"eps":0.00631,"series":"Eq. (28)"},{"dP":-0.7,"eps":0.00417,"series":"Eq. (28)"},{"dP":-0.537,"eps":0.00209,"series":"Eq. (28)"},{"dP":-0.4,"eps":0.00112,"series":"Eq. (28)"},{"dP":-0.29,"eps":0.000617,"series":"Eq. (28)"},{"dP":-0.2,"eps":0.000398,"series":"Eq. (28)"},{"dP":-0.141,"eps":0.000234,"series":"Eq. (28)"},{"dP":-0.08,"eps":0.00013,"series":"Eq. (28)"},{"dP":-0.042,"eps":0.0000692,"series":"Eq. (28)"},{"dP":-0.017,"eps":0.0000209,"series":"Eq. (28)"},{"dP":-0.005,"eps":0.00000316,"series":"Eq. (28)"}],
"c2":[{"dP":-1,"eps":1,"series":"εᵒᵖᵗ"},{"dP":-0.9,"eps":0.985,"series":"εᵒᵖᵗ"},{"dP":-0.75,"eps":0.96,"series":"εᵒᵖᵗ"},{"dP":-0.6,"eps":0.925,"series":"εᵒᵖᵗ"},{"dP":-0.5,"eps":0.894,"series":"εᵒᵖᵗ"},{"dP":-0.4,"eps":0.856,"series":"εᵒᵖᵗ"},{"dP":-0.25,"eps":0.788,"series":"εᵒᵖᵗ"},{"dP":-0.13,"eps":0.706,"series":"εᵒᵖᵗ"},{"dP":-0.054,"eps":0.624,"series":"εᵒᵖᵗ"},{"dP":-0.017,"eps":0.553,"series":"εᵒᵖᵗ"},{"dP":0,"eps":0.5,"series":"εᵒᵖᵗ"},{"dP":0,"eps":0,"series":"εᵒᵖᵗ"},
{"dP":-1,"eps":1,"series":"Eq. (28)"},{"dP":0,"eps":0.5,"series":"Eq. (28)"},{"dP":0,"eps":0,"series":"Eq. (28)"}],
"d2":[{"dP":-1,"eps":1000,"series":"εᵒᵖᵗ"},{"dP":-0.995,"eps":501,"series":"εᵒᵖᵗ"},{"dP":-0.99,"eps":263,"series":"εᵒᵖᵗ"},{"dP":-0.965,"eps":100,"series":"εᵒᵖᵗ"},{"dP":-0.94,"eps":56.2,"series":"εᵒᵖᵗ"},{"dP":-0.916,"eps":38,"series":"εᵒᵖᵗ"},{"dP":-0.842,"eps":18.6,"series":"εᵒᵖᵗ"},{"dP":-0.743,"eps":12,"series":"εᵒᵖᵗ"},{"dP":-0.62,"eps":8.32,"series":"εᵒᵖᵗ"},{"dP":-0.495,"eps":5.89,"series":"εᵒᵖᵗ"},{"dP":-0.37,"eps":4.27,"series":"εᵒᵖᵗ"},{"dP":-0.248,"eps":3.16,"series":"εᵒᵖᵗ"},{"dP":-0.15,"eps":2.24,"series":"εᵒᵖᵗ"},{"dP":-0.099,"eps":1.74,"series":"εᵒᵖᵗ"},{"dP":-0.037,"eps":1.2,"series":"εᵒᵖᵗ"},{"dP":-0.017,"eps":1,"series":"εᵒᵖᵗ"},{"dP":0,"eps":0.56,"series":"εᵒᵖᵗ"},
{"dP":-1,"eps":1000,"series":"Eq. (28)"},{"dP":-0.995,"eps":316,"series":"Eq. (28)"},{"dP":-0.99,"eps":155,"series":"Eq. (28)"},{"dP":-0.965,"eps":38,"series":"Eq. (28)"},{"dP":-0.94,"eps":22.4,"series":"Eq. (28)"},{"dP":-0.916,"eps":15.5,"series":"Eq. (28)"},{"dP":-0.842,"eps":7.59,"series":"Eq. (28)"},{"dP":-0.743,"eps":4.9,"series":"Eq. (28)"},{"dP":-0.62,"eps":3.55,"series":"Eq. (28)"},{"dP":-0.495,"eps":2.63,"series":"Eq. (28)"},{"dP":-0.37,"eps":2,"series":"Eq. (28)"},{"dP":-0.248,"eps":1.55,"series":"Eq. (28)"},{"dP":-0.12,"eps":1.23,"series":"Eq. (28)"},{"dP":-0.005,"eps":1,"series":"Eq. (28)"}]
},
"spacing":10,
"resolve":{"scale":{"color":"independent","strokeDash":"independent"}},
"hconcat":[
{"vconcat":[
 {"width":170,"height":167,
  "layer":[
   {"data":{"name":"heatTop"},"mark":{"type":"rect"},"encoding":{
     "x":{"field":"lx","type":"ordinal","axis":null,"scale":{"paddingInner":0,"paddingOuter":0}},
     "y":{"field":"ly","type":"ordinal","axis":null,"sort":"descending","scale":{"paddingInner":0,"paddingOuter":0}},
     "color":{"field":"v","type":"quantitative","scale":{"domain":[0,0.375,0.75,1],"range":["#000000","#ff0000","#ffff00","#ffffff"],"interpolate":"rgb"},
      "legend":{"type":"gradient","title":null,"orient":"right","direction":"vertical","gradientLength":164,"gradientThickness":22,"gradientStrokeColor":"#666","gradientStrokeWidth":1,"values":[0,0.2,0.4,0.6,0.8,1],"labelExpr":"toString(datum.value)","labelBaseline":"middle","labelFontSize":17,"labelOffset":5,"offset":8,"labelOverlap":false}}}},
   {"data":{"name":"heatTop"},"mark":{"type":"rect"},"encoding":{
     "x":{"field":"lx","type":"ordinal","axis":null,"scale":{"paddingInner":0,"paddingOuter":0}},
     "y":{"field":"ly","type":"ordinal","axis":null,"sort":"descending","scale":{"paddingInner":0,"paddingOuter":0}},
     "color":{"field":"v","type":"quantitative"}}},
   {"data":{"name":"heatTop"},"mark":{"type":"rect"},"encoding":{
     "x":{"field":"lx","type":"ordinal","axis":null,"scale":{"paddingInner":0,"paddingOuter":0}},
     "y":{"field":"ly","type":"ordinal","axis":null,"sort":"descending","scale":{"paddingInner":0,"paddingOuter":0}},
     "color":{"field":"v","type":"quantitative"}}},
   {"data":{"name":"marks"},"mark":{"type":"point","filled":true,"size":22,"opacity":1},"encoding":{
     "x":{"field":"eps","type":"quantitative","scale":{"type":"log","domain":[0.0001,10000],"nice":false},"axis":null},
     "y":{"field":"sigma","type":"quantitative","scale":{"type":"log","domain":[0.0001,10000],"nice":false},"axis":{"orient":"left","ticks":false,"values":[0.0001,1,10000],"labelExpr":"datum.value < 0.01 ? '10⁻⁴' : datum.value < 100 ? '10⁰' : '10⁴'","labelPadding":5,"title":"σ","titleFontStyle":"italic","titlePadding":1}},
     "color":{"condition":{"test":"datum.label == 'b'","value":"#000000"},"value":"#ffffff"}}},
   {"data":{"name":"marks"},"transform":[{"filter":"datum.sigma > 1"}],"mark":{"type":"text","fontSize":19,"baseline":"alphabetic","dy":18},"encoding":{
     "x":{"field":"eps","type":"quantitative","scale":{"type":"log","domain":[0.0001,10000],"nice":false},"axis":null},
     "y":{"field":"sigma","type":"quantitative","scale":{"type":"log","domain":[0.0001,10000],"nice":false},"axis":null},
     "text":{"field":"label"},
     "color":{"condition":{"test":"datum.label == 'b'","value":"#000000"},"value":"#ffffff"}}},
   {"data":{"name":"marks"},"transform":[{"filter":"datum.sigma < 1"}],"mark":{"type":"text","fontSize":19,"baseline":"alphabetic","dy":-8},"encoding":{
     "x":{"field":"eps","type":"quantitative","scale":{"type":"log","domain":[0.0001,10000],"nice":false},"axis":null},
     "y":{"field":"sigma","type":"quantitative","scale":{"type":"log","domain":[0.0001,10000],"nice":false},"axis":null},
     "text":{"field":"label"},
     "color":{"value":"#ffffff"}}}
  ],
  "resolve":{"scale":{"x":"independent","y":"independent"}}},
 {"width":170,"height":167,
  "layer":[
   {"data":{"name":"heatBot"},"mark":{"type":"rect"},"encoding":{
     "x":{"field":"lx","type":"ordinal","axis":null,"scale":{"paddingInner":0,"paddingOuter":0}},
     "y":{"field":"ly","type":"ordinal","axis":null,"sort":"descending","scale":{"paddingInner":0,"paddingOuter":0}},
     "color":{"field":"v","type":"quantitative","scale":{"domain":[0,0.045,0.09,0.12],"range":["#000000","#ff0000","#ffff00","#ffffff"],"interpolate":"rgb"},
      "legend":{"type":"gradient","title":null,"orient":"right","direction":"vertical","gradientLength":163,"gradientThickness":20,"gradientStrokeColor":"#666","gradientStrokeWidth":1,"values":[0,0.02,0.04,0.06,0.08,0.1,0.12],"labelExpr":"datum.value == 0 ? '0.0' : toString(datum.value)","labelBaseline":"middle","labelFontSize":17,"labelOffset":6,"offset":10,"labelOverlap":false}}}},
   {"data":{"name":"heatBot"},"mark":{"type":"rect"},"encoding":{
     "x":{"field":"lx","type":"ordinal","axis":null,"scale":{"paddingInner":0,"paddingOuter":0}},
     "y":{"field":"ly","type":"ordinal","axis":null,"sort":"descending","scale":{"paddingInner":0,"paddingOuter":0}},
     "color":{"field":"v","type":"quantitative"}}},
   {"data":{"name":"heatBot"},"mark":{"type":"rect"},"encoding":{
     "x":{"field":"lx","type":"ordinal","axis":null,"scale":{"paddingInner":0,"paddingOuter":0}},
     "y":{"field":"ly","type":"ordinal","axis":null,"sort":"descending","scale":{"paddingInner":0,"paddingOuter":0}},
     "color":{"field":"v","type":"quantitative"}}},
   {"data":{"name":"marks"},"mark":{"type":"point","filled":true,"size":22,"opacity":1},"encoding":{
     "x":{"field":"eps","type":"quantitative","scale":{"type":"log","domain":[0.0001,10000],"nice":false},"axis":{"orient":"bottom","ticks":false,"values":[0.0001,1,10000],"labelExpr":"datum.value < 0.01 ? '10⁻⁴' : datum.value < 100 ? '10⁰' : '10⁴'","labelPadding":8,"title":"ϵC","titlePadding":2}},
     "y":{"field":"sigma","type":"quantitative","scale":{"type":"log","domain":[0.0001,10000],"nice":false},"axis":{"orient":"left","ticks":false,"values":[0.0001,1,10000],"labelExpr":"datum.value < 0.01 ? '10⁻⁴' : datum.value < 100 ? '10⁰' : '10⁴'","labelPadding":5,"title":"σ","titleFontStyle":"italic","titlePadding":1}},
     "color":{"condition":{"test":"datum.label == 'c'","value":"#000000"},"value":"#ffffff"}}},
   {"data":{"name":"marks"},"transform":[{"filter":"datum.sigma > 1"}],"mark":{"type":"text","fontSize":19,"baseline":"alphabetic","dy":19},"encoding":{
     "x":{"field":"eps","type":"quantitative","scale":{"type":"log","domain":[0.0001,10000],"nice":false},"axis":null},
     "y":{"field":"sigma","type":"quantitative","scale":{"type":"log","domain":[0.0001,10000],"nice":false},"axis":null},
     "text":{"field":"label"},
     "color":{"value":"#ffffff"}}},
   {"data":{"name":"marks"},"transform":[{"filter":"datum.sigma < 1"}],"mark":{"type":"text","fontSize":19,"baseline":"alphabetic","dy":-8},"encoding":{
     "x":{"field":"eps","type":"quantitative","scale":{"type":"log","domain":[0.0001,10000],"nice":false},"axis":null},
     "y":{"field":"sigma","type":"quantitative","scale":{"type":"log","domain":[0.0001,10000],"nice":false},"axis":null},
     "text":{"field":"label"},
     "color":{"condition":{"test":"datum.label == 'c'","value":"#000000"},"value":"#ffffff"}}}
  ],
  "resolve":{"scale":{"x":"independent","y":"independent"}}}
 ],
 "spacing":20,"bounds":"flush",
 "resolve":{"scale":{"color":"independent"}}},
{"columns":7,"spacing":{"row":0,"column":0},"bounds":"flush","align":"each",
 "resolve":{"scale":{"color":"independent","strokeDash":"independent"}},
 "concat":[
 {"width":1,"height":19,"view":{"stroke":null},"data":{"values":[]},"mark":{"type":"point","opacity":0},"encoding":{}},
 {"width":1,"height":19,"view":{"stroke":null},"data":{"values":[]},"mark":{"type":"point","opacity":0},"encoding":{}},
 {"width":1,"height":19,"view":{"stroke":null},"data":{"values":[]},"mark":{"type":"point","opacity":0},"encoding":{}},
 {"width":1,"height":19,"view":{"stroke":null},"data":{"values":[]},"mark":{"type":"point","opacity":0},"encoding":{}},
 {"width":1,"height":19,"view":{"stroke":null},"data":{"values":[]},"mark":{"type":"point","opacity":0},"encoding":{}},
 {"width":1,"height":19,"view":{"stroke":null},"data":{"values":[]},"mark":{"type":"point","opacity":0},"encoding":{}},
 {"width":1,"height":19,"view":{"stroke":null},"data":{"values":[]},"mark":{"type":"point","opacity":0},"encoding":{}},
 {"width":135,"height":142,"title":{"text":"×10⁻³","anchor":"start","offset":2},
  "layer":[
   {"data":{"name":"a1"},"transform":[{"filter":"datum.series == 'εᵒᵖᵗ'"}],"mark":{"type":"line","strokeWidth":1.2,"clip":true},"encoding":{
     "x":{"field":"dP","type":"quantitative","scale":{"domain":[-1,0],"nice":false,"zero":false},"axis":{"values":[-1,-0.5,0],"labels":false,"title":null}},
     "y":{"field":"eps","type":"quantitative","scale":{"domain":[0,1],"nice":false,"zero":false},"axis":{"values":[0,0.5,1],"labelExpr":"toString(datum.value)","title":"εᵒᵖᵗ","titleColor":"#777","titlePadding":8}},
     "color":{"field":"series","type":"nominal","scale":{"domain":["εᵒᵖᵗ","Eq. (25)"],"range":["#0072BD","#000000"]},"legend":null},
     "strokeDash":{"field":"series","type":"nominal","scale":{"domain":["εᵒᵖᵗ","Eq. (25)"],"range":[[1,0],[5,3.5]]},"legend":null}}},
   {"data":{"name":"a1"},"transform":[{"filter":"datum.series != 'εᵒᵖᵗ'"}],"mark":{"type":"line","strokeWidth":2,"clip":true},"encoding":{
     "x":{"field":"dP","type":"quantitative"},"y":{"field":"eps","type":"quantitative"},
     "color":{"field":"series","type":"nominal","legend":null},
     "strokeDash":{"field":"series","type":"nominal","legend":null}}},
   {"data":{"values":[{"panel":"a"}]},"mark":{"type":"text","fontWeight":"bold","fontSize":19,"align":"right","baseline":"middle"},"encoding":{"x":{"datum":-0.06},"y":{"datum":0.86},"text":{"field":"panel"}}}
  ]},
 {"width":50.6,"height":142,"view":{"stroke":null},"data":{"values":[]},"mark":{"type":"point","opacity":0},"encoding":{}},
 {"width":135,"height":142,
  "layer":[
   {"data":{"name":"b1"},"transform":[{"filter":"datum.series == 'εᵒᵖᵗ'"}],"mark":{"type":"line","strokeWidth":1.2,"clip":true},"encoding":{
     "x":{"field":"dP","type":"quantitative","scale":{"domain":[-1,0],"nice":false,"zero":false},"axis":{"values":[-1,-0.5,0],"labels":false,"title":null}},
     "y":{"field":"eps","type":"quantitative","scale":{"type":"log","domain":[0.0000012,1000],"nice":false},"axis":{"values":[1000,0.1,0.00001],"labelExpr":"datum.value > 100 ? '10³' : datum.value > 0.01 ? '10⁻¹' : '10⁻⁵'","title":null}},
     "color":{"field":"series","type":"nominal","scale":{"domain":["εᵒᵖᵗ","Eq. (25)"],"range":["#0072BD","#D95319"]},"legend":null},
     "strokeDash":{"field":"series","type":"nominal","scale":{"domain":["εᵒᵖᵗ","Eq. (25)"],"range":[[1,0],[5,3.5]]},"legend":null}}},
   {"data":{"name":"b1"},"transform":[{"filter":"datum.series != 'εᵒᵖᵗ'"}],"mark":{"type":"line","strokeWidth":1.5,"clip":false},"encoding":{
     "x":{"field":"dP","type":"quantitative"},"y":{"field":"eps","type":"quantitative"},
     "color":{"field":"series","type":"nominal","legend":null},
     "strokeDash":{"field":"series","type":"nominal","legend":null}}},
   {"data":{"values":[{"panel":"b"}]},"mark":{"type":"text","fontWeight":"bold","fontSize":19,"align":"right","baseline":"middle"},"encoding":{"x":{"datum":-0.06},"y":{"datum":55},"text":{"field":"panel"}}}
  ]},
 {"width":39.3,"height":142,"view":{"stroke":null},"data":{"values":[]},"mark":{"type":"point","opacity":0},"encoding":{}},
 {"width":135,"height":142,"title":{"text":"×10⁻³","anchor":"start","offset":2},
  "layer":[
   {"data":{"name":"c1"},"transform":[{"filter":"datum.series == 'εᵒᵖᵗ'"}],"mark":{"type":"line","strokeWidth":1.2,"clip":true},"encoding":{
     "x":{"field":"dP","type":"quantitative","scale":{"domain":[-1,0],"nice":false,"zero":false},"axis":{"values":[-1,-0.5,0],"labels":false,"title":null}},
     "y":{"field":"eps","type":"quantitative","scale":{"domain":[0,1],"nice":false,"zero":false},"axis":{"values":[0,0.5,1],"labelExpr":"toString(datum.value)","title":null}},
     "color":{"field":"series","type":"nominal","scale":{"domain":["εᵒᵖᵗ","Eq. (25)"],"range":["#0072BD","#000000"]},
       "legend":{"orient":"bottom-left","offset":4,"title":null,"strokeColor":"#777","fillColor":"#ffffff","padding":4,"symbolType":"M-3,0L3,0","symbolSize":256,"symbolOffset":16,"symbolStrokeWidth":1.6,"labelFontSize":16,"rowPadding":4,"labelOffset":22}},
     "strokeDash":{"field":"series","type":"nominal","scale":{"domain":["εᵒᵖᵗ","Eq. (25)"],"range":[[1,0],[5,3.5]]}}}},
   {"data":{"name":"c1"},"transform":[{"filter":"datum.series != 'εᵒᵖᵗ'"}],"mark":{"type":"line","strokeWidth":2,"clip":true},"encoding":{
     "x":{"field":"dP","type":"quantitative"},"y":{"field":"eps","type":"quantitative"},
     "color":{"field":"series","type":"nominal"},
     "strokeDash":{"field":"series","type":"nominal"}}},
   {"data":{"values":[{"panel":"c"}]},"mark":{"type":"text","fontWeight":"bold","fontSize":19,"align":"right","baseline":"middle"},"encoding":{"x":{"datum":-0.06},"y":{"datum":0.86},"text":{"field":"panel"}}}
  ]},
 {"width":47,"height":142,"view":{"stroke":null},"data":{"values":[]},"mark":{"type":"point","opacity":0},"encoding":{}},
 {"width":135,"height":142,
  "layer":[
   {"data":{"name":"d1"},"transform":[{"filter":"datum.series == 'εᵒᵖᵗ'"}],"mark":{"type":"line","strokeWidth":1.2,"clip":true},"encoding":{
     "x":{"field":"dP","type":"quantitative","scale":{"domain":[-1,0],"nice":false,"zero":false},"axis":{"values":[-1,-0.5,0],"labels":false,"title":null}},
     "y":{"field":"eps","type":"quantitative","scale":{"type":"log","domain":[0.55,1000],"nice":false},"axis":{"values":[1000,100,10,1],"labelExpr":"datum.value > 500 ? '10³' : datum.value > 50 ? '10²' : datum.value > 5 ? '10¹' : '10⁰'","title":null}},
     "color":{"field":"series","type":"nominal","scale":{"domain":["εᵒᵖᵗ","Eq. (25)"],"range":["#0072BD","#000000"]},"legend":null},
     "strokeDash":{"field":"series","type":"nominal","scale":{"domain":["εᵒᵖᵗ","Eq. (25)"],"range":[[1,0],[5,3.5]]},"legend":null}}},
   {"data":{"name":"d1"},"transform":[{"filter":"datum.series != 'εᵒᵖᵗ'"}],"mark":{"type":"line","strokeWidth":2,"clip":true},"encoding":{
     "x":{"field":"dP","type":"quantitative"},"y":{"field":"eps","type":"quantitative"},
     "color":{"field":"series","type":"nominal","legend":null},
     "strokeDash":{"field":"series","type":"nominal","legend":null}}},
   {"data":{"values":[{"panel":"d"}]},"mark":{"type":"text","fontWeight":"bold","fontSize":19,"align":"right","baseline":"middle"},"encoding":{"x":{"datum":-0.06},"y":{"datum":347},"text":{"field":"panel"}}}
  ]},
 {"width":1,"height":38,"view":{"stroke":null},"data":{"values":[]},"mark":{"type":"point","opacity":0},"encoding":{}},
 {"width":1,"height":38,"view":{"stroke":null},"data":{"values":[]},"mark":{"type":"point","opacity":0},"encoding":{}},
 {"width":1,"height":38,"view":{"stroke":null},"data":{"values":[]},"mark":{"type":"point","opacity":0},"encoding":{}},
 {"width":1,"height":38,"view":{"stroke":null},"data":{"values":[]},"mark":{"type":"point","opacity":0},"encoding":{}},
 {"width":1,"height":38,"view":{"stroke":null},"data":{"values":[]},"mark":{"type":"point","opacity":0},"encoding":{}},
 {"width":1,"height":38,"view":{"stroke":null},"data":{"values":[]},"mark":{"type":"point","opacity":0},"encoding":{}},
 {"width":1,"height":38,"view":{"stroke":null},"data":{"values":[]},"mark":{"type":"point","opacity":0},"encoding":{}},
 {"width":135,"height":142,"title":{"text":"×10⁻³","anchor":"start","offset":2},
  "layer":[
   {"data":{"name":"a2"},"transform":[{"filter":"datum.series == 'εᵒᵖᵗ'"}],"mark":{"type":"line","strokeWidth":1.2,"clip":true},"encoding":{
     "x":{"field":"dP","type":"quantitative","scale":{"domain":[-1,0],"nice":false,"zero":false},"axis":{"values":[-1,-0.5,0],"labelExpr":"toString(datum.value)","labelPadding":12,"title":"δP","titleFontStyle":"italic","titlePadding":2}},
     "y":{"field":"eps","type":"quantitative","scale":{"domain":[0,1],"nice":false,"zero":false},"axis":{"values":[0,0.5,1],"labelExpr":"toString(datum.value)","title":"εᵒᵖᵗ","titleColor":"#777","titlePadding":8}},
     "color":{"field":"series","type":"nominal","scale":{"domain":["εᵒᵖᵗ","Eq. (28)"],"range":["#0072BD","#000000"]},"legend":null},
     "strokeDash":{"field":"series","type":"nominal","scale":{"domain":["εᵒᵖᵗ","Eq. (28)"],"range":[[1,0],[5,3.5]]},"legend":null}}},
   {"data":{"name":"a2"},"transform":[{"filter":"datum.series != 'εᵒᵖᵗ'"}],"mark":{"type":"line","strokeWidth":2,"clip":true},"encoding":{
     "x":{"field":"dP","type":"quantitative"},"y":{"field":"eps","type":"quantitative"},
     "color":{"field":"series","type":"nominal","legend":null},
     "strokeDash":{"field":"series","type":"nominal","legend":null}}},
   {"data":{"values":[{"panel":"a"}]},"mark":{"type":"text","fontWeight":"bold","fontSize":19,"align":"right","baseline":"middle"},"encoding":{"x":{"datum":-0.06},"y":{"datum":0.86},"text":{"field":"panel"}}}
  ]},
 {"width":50.6,"height":142,"view":{"stroke":null},"data":{"values":[]},"mark":{"type":"point","opacity":0},"encoding":{}},
 {"width":135,"height":142,
  "layer":[
   {"data":{"name":"b2"},"transform":[{"filter":"datum.series == 'εᵒᵖᵗ'"}],"mark":{"type":"line","strokeWidth":1.2,"clip":true},"encoding":{
     "x":{"field":"dP","type":"quantitative","scale":{"domain":[-1,0],"nice":false,"zero":false},"axis":{"values":[-1,-0.5,0],"labelExpr":"toString(datum.value)","labelPadding":12,"title":"δP","titleFontStyle":"italic","titlePadding":2}},
     "y":{"field":"eps","type":"quantitative","scale":{"type":"log","domain":[0.0000012,1000],"nice":false},"axis":{"values":[1000,0.1,0.00001],"labelExpr":"datum.value > 100 ? '10³' : datum.value > 0.01 ? '10⁻¹' : '10⁻⁵'","title":null}},
     "color":{"field":"series","type":"nominal","scale":{"domain":["εᵒᵖᵗ","Eq. (28)"],"range":["#0072BD","#000000"]},"legend":null},
     "strokeDash":{"field":"series","type":"nominal","scale":{"domain":["εᵒᵖᵗ","Eq. (28)"],"range":[[1,0],[5,3.5]]},"legend":null}}},
   {"data":{"name":"b2"},"transform":[{"filter":"datum.series != 'εᵒᵖᵗ'"}],"mark":{"type":"line","strokeWidth":2,"clip":true},"encoding":{
     "x":{"field":"dP","type":"quantitative"},"y":{"field":"eps","type":"quantitative"},
     "color":{"field":"series","type":"nominal","legend":null},
     "strokeDash":{"field":"series","type":"nominal","legend":null}}},
   {"data":{"values":[{"panel":"b"}]},"mark":{"type":"text","fontWeight":"bold","fontSize":19,"align":"right","baseline":"middle"},"encoding":{"x":{"datum":-0.06},"y":{"datum":55},"text":{"field":"panel"}}}
  ]},
 {"width":39.3,"height":142,"view":{"stroke":null},"data":{"values":[]},"mark":{"type":"point","opacity":0},"encoding":{}},
 {"width":135,"height":142,"title":{"text":"×10⁻³","anchor":"start","offset":2},
  "layer":[
   {"data":{"name":"c2"},"transform":[{"filter":"datum.series == 'εᵒᵖᵗ'"}],"mark":{"type":"line","strokeWidth":1.2,"clip":true},"encoding":{
     "x":{"field":"dP","type":"quantitative","scale":{"domain":[-1,0],"nice":false,"zero":false},"axis":{"values":[-1,-0.5,0],"labelExpr":"toString(datum.value)","labelPadding":12,"title":"δP","titleFontStyle":"italic","titlePadding":2}},
     "y":{"field":"eps","type":"quantitative","scale":{"domain":[0,1],"nice":false,"zero":false},"axis":{"values":[0,0.5,1],"labelExpr":"toString(datum.value)","title":null}},
     "color":{"field":"series","type":"nominal","scale":{"domain":["εᵒᵖᵗ","Eq. (28)"],"range":["#0072BD","#000000"]},
       "legend":{"orient":"bottom-left","offset":4,"title":null,"strokeColor":"#777","fillColor":"#ffffff","padding":4,"symbolType":"M-3,0L3,0","symbolSize":256,"symbolOffset":16,"symbolStrokeWidth":1.6,"labelFontSize":16,"rowPadding":4,"labelOffset":22}},
     "strokeDash":{"field":"series","type":"nominal","scale":{"domain":["εᵒᵖᵗ","Eq. (28)"],"range":[[1,0],[5,3.5]]}}}},
   {"data":{"name":"c2"},"transform":[{"filter":"datum.series != 'εᵒᵖᵗ'"}],"mark":{"type":"line","strokeWidth":2,"clip":true},"encoding":{
     "x":{"field":"dP","type":"quantitative"},"y":{"field":"eps","type":"quantitative"},
     "color":{"field":"series","type":"nominal"},
     "strokeDash":{"field":"series","type":"nominal"}}},
   {"data":{"values":[{"panel":"c"}]},"mark":{"type":"text","fontWeight":"bold","fontSize":19,"align":"right","baseline":"middle"},"encoding":{"x":{"datum":-0.06},"y":{"datum":0.86},"text":{"field":"panel"}}}
  ]},
 {"width":47,"height":142,"view":{"stroke":null},"data":{"values":[]},"mark":{"type":"point","opacity":0},"encoding":{}},
 {"width":135,"height":142,
  "layer":[
   {"data":{"name":"d2"},"transform":[{"filter":"datum.series == 'εᵒᵖᵗ'"}],"mark":{"type":"line","strokeWidth":1.2,"clip":true},"encoding":{
     "x":{"field":"dP","type":"quantitative","scale":{"domain":[-1,0],"nice":false,"zero":false},"axis":{"values":[-1,-0.5,0],"labelExpr":"toString(datum.value)","labelPadding":12,"title":"δP","titleFontStyle":"italic","titlePadding":2}},
     "y":{"field":"eps","type":"quantitative","scale":{"type":"log","domain":[0.55,1000],"nice":false},"axis":{"values":[1000,100,10,1],"labelExpr":"datum.value > 500 ? '10³' : datum.value > 50 ? '10²' : datum.value > 5 ? '10¹' : '10⁰'","title":null}},
     "color":{"field":"series","type":"nominal","scale":{"domain":["εᵒᵖᵗ","Eq. (28)"],"range":["#0072BD","#000000"]},"legend":null},
     "strokeDash":{"field":"series","type":"nominal","scale":{"domain":["εᵒᵖᵗ","Eq. (28)"],"range":[[1,0],[5,3.5]]},"legend":null}}},
   {"data":{"name":"d2"},"transform":[{"filter":"datum.series != 'εᵒᵖᵗ'"}],"mark":{"type":"line","strokeWidth":2,"clip":true},"encoding":{
     "x":{"field":"dP","type":"quantitative"},"y":{"field":"eps","type":"quantitative"},
     "color":{"field":"series","type":"nominal","legend":null},
     "strokeDash":{"field":"series","type":"nominal","legend":null}}},
   {"data":{"values":[{"panel":"d"}]},"mark":{"type":"text","fontWeight":"bold","fontSize":19,"align":"right","baseline":"middle"},"encoding":{"x":{"datum":-0.06},"y":{"datum":347},"text":{"field":"panel"}}}
  ]}
 ]}
]
}
